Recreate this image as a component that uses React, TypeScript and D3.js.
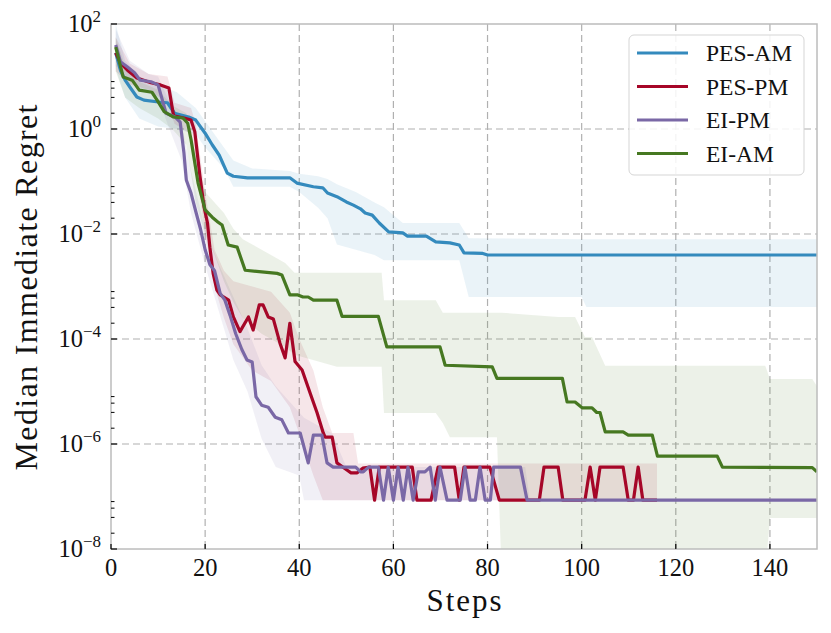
import React from "react";
import * as d3 from "d3";

// steps vs log10(median immediate regret)
const xTicks = [0, 20, 40, 60, 80, 100, 120, 140];
const yTickExps = [2, 0, -2, -4, -6, -8];
const minorSubs = [2, 4, 6, 8];
const minorDecades = [0, -2, -4, -6, -8];

const seriesNames = ["PES-AM", "PES-PM", "EI-PM", "EI-AM"];
const seriesColors = ["#348ABD", "#A60628", "#7A68A6", "#467821"];

const pesAmMedian: [number, number][] = [
	[1, 1.45], [2, 1.12], [3, 0.93], [4, 0.8], [5.5, 0.61], [7, 0.55], [10.5, 0.51], [12, 0.5],
	[13.5, 0.3], [16.5, 0.23], [18, 0.17], [20, -0.08], [21.5, -0.3], [23, -0.5], [24.7, -0.84],
	[26, -0.9], [29, -0.93], [38, -0.93], [39.5, -1.03], [43, -1.1], [45, -1.12], [46, -1.22],
	[48, -1.29], [50, -1.39], [51.5, -1.45], [53, -1.52], [54, -1.6], [55.5, -1.64], [57, -1.79],
	[59, -1.96], [62, -1.98], [63, -2.04], [67, -2.04], [69, -2.15], [72, -2.17], [74, -2.21],
	[75, -2.36], [79, -2.37], [80, -2.4], [150, -2.4],
];

const pesPmMedian: [number, number][] = [
	[1, 1.45], [2, 1.26], [3.5, 1.12], [5.5, 0.97], [8.5, 0.88], [10.5, 0.84], [12.3, 0.78],
	[13.3, 0.25], [15.5, 0.21], [17, 0.17], [17.8, -0.05], [18.9, -0.9], [19.8, -1.5], [20.5, -1.79],
	[21, -2.25], [21.7, -2.75], [22.5, -3.07], [23.2, -3.16], [25, -3.26], [26, -3.58], [27.4, -3.86],
	[29.2, -3.58], [30.2, -3.83], [31.5, -3.35], [32.3, -3.35], [33.4, -3.58], [34.5, -3.62],
	[35.9, -4.08], [37, -4.36], [38, -3.7], [39.1, -4.43], [40.6, -4.59], [42.3, -5.03], [43.8, -5.41],
	[45.1, -5.79], [45.5, -5.87], [47, -5.87], [48, -6.36], [50.2, -6.5], [51, -6.55], [52.3, -6.55],
	[53.5, -6.46], [55, -6.44], [56, -7.07], [57, -6.44], [64, -6.44], [65, -7.07], [68, -7.07],
	[69.5, -6.44], [73, -6.44], [74, -7.07], [75, -6.44], [80.5, -6.44], [82.5, -7.07], [91, -7.07],
	[92, -6.44], [95, -6.44], [96, -7.07], [100.7, -7.07], [101.8, -6.44], [102.9, -7.07],
	[103.9, -6.44], [108.8, -6.44], [109.9, -7.07], [111, -7.07], [112, -6.44], [113, -7.07],
	[116, -7.07],
];

const eiPmMedian: [number, number][] = [
	[1, 1.6], [2, 1.28], [3.5, 1.18], [5, 1.07], [6.2, 0.93], [8.5, 0.9], [10, 0.84], [10.6, 0.65],
	[11.7, 0.3], [13.6, 0.23], [14.7, 0.13], [15.5, -0.46], [16, -0.97], [17, -1.22], [18.1, -1.6],
	[19, -1.9], [20, -2.3], [21, -2.58], [22, -2.7], [23.2, -3.13], [24.2, -3.26], [25.3, -3.55],
	[26.5, -3.9], [27.8, -4.2], [28.9, -4.4], [30, -4.44], [30.8, -5.1], [32, -5.26], [33.4, -5.3],
	[34.9, -5.49], [36.3, -5.54], [37.7, -5.79], [40.2, -5.79], [41.9, -6.36], [43, -5.83],
	[44.8, -5.83], [45.9, -6.36], [47.2, -6.44], [52, -6.44], [53, -6.53], [53.6, -6.53],
	[54.7, -6.44], [56.8, -6.44], [57.9, -7.07], [58.9, -6.44], [60, -7.07], [61, -6.44],
	[62.1, -7.07], [63.1, -6.44], [64.2, -7.07], [65.3, -6.53], [66.7, -6.53], [67.8, -6.44],
	[68.9, -7.07], [69.9, -6.44], [71.4, -7.07], [74.2, -7.07], [75.2, -6.44], [76.3, -7.07],
	[77.4, -7.07], [78.4, -6.44], [79.5, -7.07], [80.6, -7.07], [81.3, -6.44], [87, -6.44],
	[88.4, -7.07], [150, -7.07],
];

const eiAmMedian: [number, number][] = [
	[1, 1.56], [2, 1.2], [2.6, 0.99], [4.5, 0.93], [6, 0.74], [8.7, 0.7], [9.8, 0.55], [11.3, 0.33],
	[13.2, 0.23], [15.3, 0.21], [16.3, 0.11], [17, -0.2], [18.5, -1.03], [20, -1.54], [21.5, -1.68],
	[22.7, -1.77], [23.6, -1.83], [24.9, -2.21], [26.8, -2.25], [28.5, -2.69], [35.3, -2.75],
	[36.3, -2.78], [38, -3.16], [39.7, -3.16], [40.8, -3.2], [41.9, -3.2], [43, -3.26], [48, -3.26],
	[49.1, -3.57], [56.8, -3.57], [58.6, -4.15], [69.9, -4.15], [71, -4.5], [81, -4.53], [82, -4.75],
	[95.9, -4.75], [96.9, -5.2], [98.6, -5.2], [100.1, -5.31], [102.2, -5.31], [103.2, -5.4],
	[103.9, -5.4], [105, -5.77], [108.8, -5.77], [109.9, -5.83], [115, -5.83], [116.1, -6.23],
	[128.8, -6.23], [129.9, -6.44], [149, -6.45], [150, -6.53],
];

// [step, lower, upper] of the shaded spread, log10
const pesAmBand: [number, number, number][] = [
	[1, 1.15, 2.0], [3, 0.6, 1.3], [6, 0.2, 1.0], [10, 0.05, 0.85], [14, 0.0, 0.7], [18, -0.1, 0.4],
	[20, -0.35, 0.15], [24, -0.75, -0.35], [26, -1.1, -0.6], [30, -1.1, -0.75], [38, -1.1, -0.8],
	[40, -1.2, -0.85], [44, -1.5, -0.9], [46, -1.7, -0.95], [48, -2.2, -1.05], [52, -2.3, -1.2],
	[56, -2.4, -1.4], [58, -2.5, -1.49], [62, -2.5, -1.79], [74, -2.5, -1.79], [76, -3.2, -2.08],
	[100, -3.2, -2.1], [101, -3.39, -2.1], [150, -3.39, -2.1],
];

const pesPmBand: [number, number, number][] = [
	[1, 1.1, 1.75], [4, 0.85, 1.25], [8, 0.75, 1.05], [12, 0.5, 1.0], [13.5, 0.1, 0.5],
	[17, -0.1, 0.4], [18, -0.7, 0.1], [20, -2.0, -1.2], [22, -3.0, -2.3], [24, -3.6, -2.7],
	[26, -4.1, -2.9], [30, -4.6, -3.0], [34, -4.8, -3.1], [38, -5.3, -3.5], [40, -5.8, -4.0],
	[43, -6.6, -4.6], [45, -7.07, -5.3], [47, -7.07, -5.79], [51.5, -7.07, -5.79],
	[52.5, -7.07, -6.37], [116, -7.07, -6.37],
];

const eiPmBand: [number, number, number][] = [
	[1, 1.2, 1.9], [4, 0.9, 1.3], [8, 0.7, 1.05], [10, 0.6, 1.0], [12, 0.1, 0.6], [15, -0.6, 0.1],
	[17, -1.6, -0.8], [20, -2.6, -1.9], [23, -3.5, -2.6], [26, -4.4, -3.2], [29, -5.0, -3.8],
	[32, -5.9, -4.5], [35, -6.44, -4.9], [40, -6.6, -5.4], [41, -7.07, -5.5], [47, -7.07, -5.8],
	[50, -7.07, -6.44], [88, -7.07, -6.44], [89, -7.07, -7.07], [150, -7.07, -7.07],
];

const eiAmBand: [number, number, number][] = [
	[1, 1.1, 1.75], [3, 0.6, 1.2], [6, 0.4, 0.9], [10, 0.2, 0.75], [13, 0.0, 0.45], [16, -0.3, 0.3],
	[18, -1.4, -0.5], [20, -2.0, -1.2], [22, -2.4, -1.4], [24, -2.9, -1.6], [26, -3.3, -1.9],
	[28, -3.6, -2.1], [32, -3.9, -2.3], [37, -4.15, -2.55], [39, -4.3, -2.74], [48, -4.53, -2.74],
	[57.5, -4.53, -2.74], [58, -5.41, -3.26], [69, -5.41, -3.26], [70.5, -5.6, -3.5],
	[72, -5.87, -3.5], [82, -5.87, -3.5], [83, -8.5, -3.5], [95, -8.5, -3.58], [98.6, -8.5, -3.58],
	[100.7, -8.5, -3.96], [102.2, -8.5, -3.96], [105, -8.5, -4.51], [139, -8.5, -4.51],
	[140, -7.41, -4.76], [149, -7.41, -4.76], [150, -7.41, -4.9],
];

const medians = [pesAmMedian, pesPmMedian, eiPmMedian, eiAmMedian];
const bands = [pesAmBand, pesPmBand, eiPmBand, eiAmBand];

const W = 831;
const H = 633;
const margin = { left: 111, right: 14, top: 24, bottom: 84 };
const serif = "'Liberation Serif', 'DejaVu Serif', serif";

export default function App() {
	const x = d3.scaleLinear().domain([0, 150]).range([margin.left, W - margin.right]);
	const y = d3.scaleLog().domain([1e-8, 1e2]).range([H - margin.bottom, margin.top]);
	const [x0, x1] = x.range();
	const [yb, yt] = y.range();

	const line = d3
		.line<[number, number]>()
		.x((d) => x(d[0]))
		.y((d) => y(Math.pow(10, d[1])));

	const area = d3
		.area<[number, number, number]>()
		.x((d) => x(d[0]))
		.y0((d) => y(Math.pow(10, d[1])))
		.y1((d) => y(Math.pow(10, d[2])));

	const minorTicks = minorDecades.flatMap((k) => minorSubs.map((s) => s * Math.pow(10, k)));

	return (
		<svg
			width={W}
			height={H}
			style={{ position: "absolute", left: 0, top: 0, background: "#fff" }}
			fontFamily={serif}
		>
			<defs>
				<clipPath id="plot">
					<rect x={x0} y={yt} width={x1 - x0} height={yb - yt} />
				</clipPath>
			</defs>

			{/* grid */}
			<g stroke="#b0b0b0" strokeWidth={1.2} strokeDasharray="7,4">
				{xTicks.slice(1).map((t) => (
					<line key={"gx" + t} x1={x(t)} x2={x(t)} y1={yt} y2={yb} />
				))}
				{yTickExps.slice(1, -1).map((e) => (
					<line key={"gy" + e} x1={x0} x2={x1} y1={y(Math.pow(10, e))} y2={y(Math.pow(10, e))} />
				))}
			</g>

			<g clipPath="url(#plot)">
				{bands.map((b, i) => (
					<path key={"b" + i} d={area(b) || ""} fill={seriesColors[i]} fillOpacity={0.1} />
				))}
				{medians.map((m, i) => (
					<path
						key={"m" + i}
						d={line(m) || ""}
						fill="none"
						stroke={seriesColors[i]}
						strokeWidth={3.2}
						strokeLinejoin="round"
					/>
				))}
			</g>

			{/* spines */}
			<rect x={x0} y={yt} width={x1 - x0} height={yb - yt} fill="none" stroke="#bcbcbc" strokeWidth={1.5} />

			{/* ticks */}
			<g stroke="#000" strokeWidth={1.2}>
				{xTicks.map((t) => (
					<line key={"tx" + t} x1={x(t)} x2={x(t)} y1={yb} y2={yb - 5} />
				))}
				{yTickExps.map((e) => (
					<line key={"ty" + e} x1={x0} x2={x0 + 6} y1={y(Math.pow(10, e))} y2={y(Math.pow(10, e))} />
				))}
				{minorTicks.map((v) => (
					<line key={"tm" + v} x1={x0} x2={x0 + 3.5} y1={y(v)} y2={y(v)} strokeWidth={1} />
				))}
			</g>

			{/* tick labels */}
			<g fontSize={24.5} fill="#111">
				{xTicks.map((t) => (
					<text key={"lx" + t} x={x(t)} y={yb + 27} textAnchor="middle">
						{t}
					</text>
				))}
				{yTickExps.map((e) => (
					<text key={"ly" + e} x={x0 - 10} y={y(Math.pow(10, e)) + 8} textAnchor="end">
						10
						<tspan fontSize={17} dy={-10}>
							{e < 0 ? "\u2212" + Math.abs(e) : String(e)}
						</tspan>
					</text>
				))}
			</g>

			{/* axis labels */}
			<text x={(x0 + x1) / 2} y={611} fontSize={31} textAnchor="middle" fill="#111" textLength={75} lengthAdjust="spacing">
				Steps
			</text>
			<text
				transform={`translate(37,${(yt + yb) / 2 + 1}) rotate(-90)`}
				fontSize={32}
				textAnchor="middle"
				fill="#111"
				textLength={366}
				lengthAdjust="spacing"
			>
				Median Immediate Regret
			</text>

			{/* legend */}
			<g>
				<rect x={629} y={35} width={175} height={140} rx={5} fill="#fff" fillOpacity={0.85} stroke="#d5d5d5" />
				{seriesNames.map((n, i) => (
					<g key={n} transform={`translate(637,${53 + i * 33.5})`}>
						<line x1={0} x2={51} y1={0} y2={0} stroke={seriesColors[i]} strokeWidth={3.2} />
						<text x={69} y={8} fontSize={23.5} fill="#111">
							{n}
						</text>
					</g>
				))}
			</g>
		</svg>
	);
}
